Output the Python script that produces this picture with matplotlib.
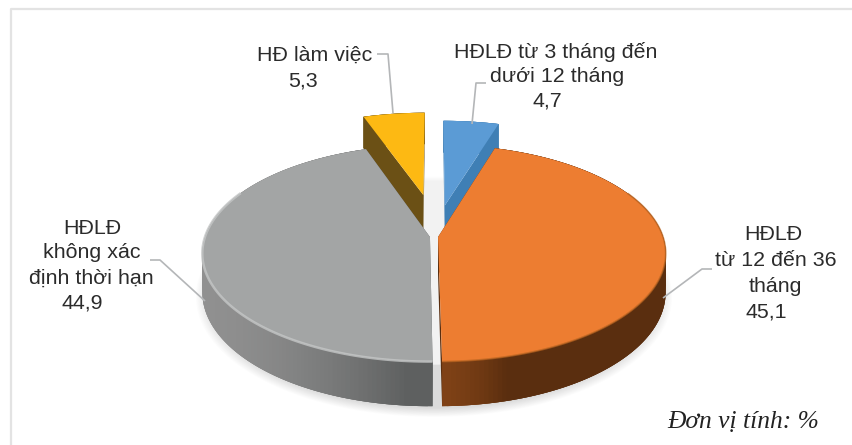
import numpy as np
import matplotlib
matplotlib.use("Agg")
import matplotlib.pyplot as plt
from matplotlib.patches import Polygon

# data, clockwise from 12 o'clock
values = [4.7, 45.1, 44.9, 5.3]
top_colors = ["#5b9bd5", "#ed7d31", "#a3a5a5", "#fdb913"]
side_left = ["#3f7fb5", "#804216", "#909090", "#6b5015"]
side_right = ["#3f7fb5", "#5a2e0f", "#5e6060", "#6b5015"]
side_speed = [1.0, 3.2, 1.15, 1.0]
explode = [(0.05, 0.31), (0.018, 0.0), (-0.018, 0.0), (-0.05, 0.42)]

label_lines = [
    ["HĐLĐ từ 3 tháng đến", "dưới 12 tháng", "4,7"],
    ["HĐLĐ", "từ 12 đến 36", "tháng", "45,1"],
    ["HĐLĐ", "không xác", "định thời hạn", "44,9"],
    ["HĐ làm việc", "5,3"],
]
label_pos = [
    [(556, 52), (557, 77), (547, 101)],
    [(773, 235), (776, 261), (775, 287), (766, 312)],
    [(92, 228), (92, 253), (91, 278), (82, 303)],
    [(315, 55), (303, 81)],
]
leaders = [
    [(486, 83), (476, 83), (472, 124)],
    [(712, 269), (702, 269), (663, 298)],
    [(150, 260), (160, 260), (205, 301)],
    [(377, 54), (388, 54), (393, 113)],
]
unit_text = "Đơn vị tính: %"

# perspective of the disc, in pixels
CX, CY, A, B, K, DEPTH = 434, 237, 225, 106, 0.149, 38


def project(X, Y, z=0.0):
    w = 1 + K * Y
    return CX + A * X / w, CY - B * Y / w + z * DEPTH / w


def mix(c1, c2, t):
    c1 = np.array(matplotlib.colors.to_rgb(c1))
    c2 = np.array(matplotlib.colors.to_rgb(c2))
    return tuple(c1 + (c2 - c1) * t)


fig = plt.figure(figsize=(8.52, 4.45), dpi=100)
ax = fig.add_axes([0, 0, 1, 1])
ax.set_xlim(0, 852)
ax.set_ylim(445, 0)
ax.axis("off")

# frame, only top and left show
ax.plot([10.5, 10.5, 852], [445, 8.5, 8.5], color="#e3e3e3", lw=1.6, zorder=1)

# soft shadow under the disc
th = np.linspace(0, 2 * np.pi, 300)
for grow in np.linspace(1.045, 0.99, 12):
    sx, sy = project(np.sin(th) * grow, np.cos(th) * grow, 1.08)
    ax.add_patch(Polygon(np.c_[sx, sy], fc="#808080", ec="none", alpha=0.022, zorder=2))
# keep the gaps between the slices pale
sx, sy = project(np.sin(th) * 0.93, np.cos(th) * 0.93, 0.3)
ax.add_patch(Polygon(np.c_[sx, sy], fc="white", ec="none", alpha=0.65, zorder=3))

edges = np.cumsum([0] + values) / sum(values) * 2 * np.pi

# the two pulled out slices go first, the big ones sit in front of them
for i in [3, 0, 1, 2]:
    z0 = 10 + i if i in (0, 3) else 20 + i
    ex, ey = explode[i]
    t = np.linspace(edges[i], edges[i + 1], 160)
    X = ex + np.sin(t)
    Y = ey + np.cos(t)
    x_top, y_top = project(X, Y)
    x_bot, y_bot = project(X, Y, 1)

    # outer wall, shaded from left to right, each piece overlaps the next
    xmin, xmax = x_top.min(), x_top.max()
    order = range(len(t) - 1) if i == 2 else range(len(t) - 2, -1, -1)
    for j in order:
        j2 = min(j + 2, len(t) - 1)
        j1 = max(j - 1, 0)
        f = (0.5 * (x_top[j] + x_top[j + 1]) - xmin) / max(xmax - xmin, 1)
        col = mix(side_left[i], side_right[i], min(1, f * side_speed[i]) ** 1.6)
        quad = [(x_top[j1], y_top[j1]), (x_top[j2], y_top[j2]),
                (x_bot[j2], y_bot[j2]), (x_bot[j1], y_bot[j1])]
        ax.add_patch(Polygon(quad, fc=col, ec="none", zorder=z0))

    # cut faces
    ax0, ay0 = project(ex, ey)
    bx0, by0 = project(ex, ey, 1)
    for k in (0, -1):
        face = [(ax0, ay0), (x_top[k], y_top[k]), (x_bot[k], y_bot[k]), (bx0, by0)]
        ax.add_patch(Polygon(face, fc=side_right[i], ec="none", zorder=z0))

    # top
    pts = [(ax0, ay0)] + list(zip(x_top, y_top))
    ax.add_patch(Polygon(pts, fc=top_colors[i], ec="none", zorder=z0 + 0.5))

    # bevel along the front rim
    front = Y < 0.45
    if i == 2:
        ax.plot(x_top[front], y_top[front], color="#c4c6c6", lw=1.8, alpha=0.8,
                solid_capstyle="butt", zorder=z0 + 0.6)
    elif i == 1:
        ax.plot(x_top[front], y_top[front], color="#b8631f", lw=1.2, alpha=0.7,
                solid_capstyle="butt", zorder=z0 + 0.6)

for pts in leaders:
    xs, ys = zip(*pts)
    ax.plot(xs, ys, color="#b4b6b8", lw=1.2, solid_capstyle="butt", zorder=40)

for lines, pos in zip(label_lines, label_pos):
    for s, (x, y) in zip(lines, pos):
        ax.text(x, y, s, ha="center", va="center", fontsize=15.4,
                family="Liberation Sans", color="#2b2b2b", zorder=50)

ax.text(743, 422, unit_text, ha="center", va="center", fontsize=18.4,
        family="Liberation Serif", style="italic", color="#222222", zorder=50)

fig.savefig("out.png", dpi=100, facecolor="white")
